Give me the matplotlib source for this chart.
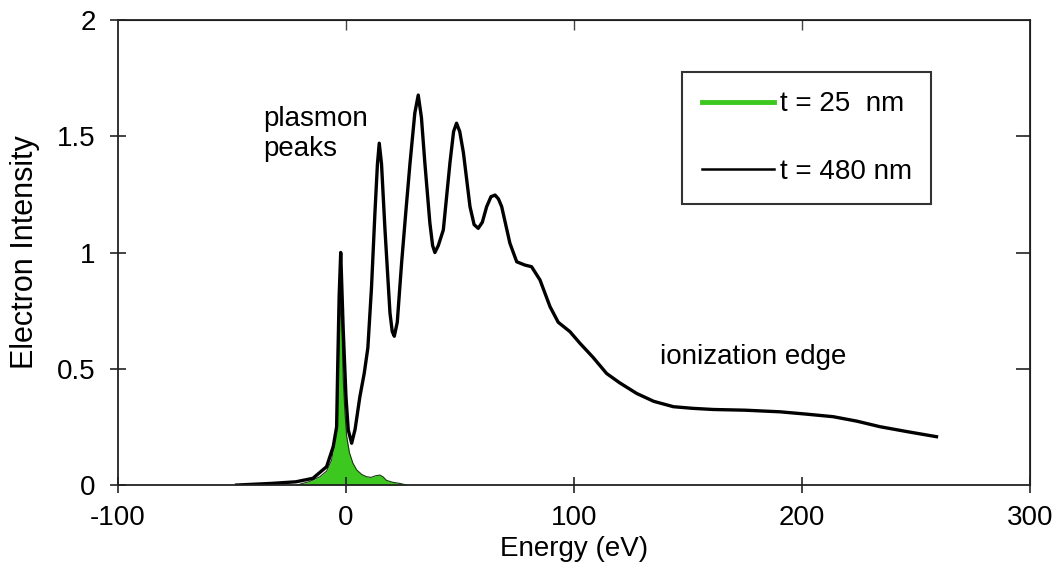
import matplotlib.pyplot as plt
from matplotlib.lines import Line2D

plt.rcParams['font.family'] = ['Liberation Sans', 'DejaVu Sans']

# t = 480 nm spectrum
energy_480 = [-48, -33, -22, -14.5, -8.5, -5.6, -4.1, -3.6, -3.0, -2.3, -1.2, 0, 1, 2.5,
              4, 6.1, 8, 9.6, 11.2, 12.7, 13.8, 14.6, 15.6, 17.1, 19.3, 20.3, 21.2, 22.5,
              24.4, 26.3, 28.1, 30.2, 31.7, 33.1, 34.6, 36.8, 38, 39, 40.5, 42.7, 45.6,
              47.2, 48.5, 49.9, 51.5, 54.4, 56.2, 58, 59.8, 61.7, 63.6, 65.4, 66.9, 68.3,
              71.9, 74.9, 78.5, 81.4, 85.1, 89.5, 93.1, 98.2, 102.6, 108.3, 114.3, 120,
              127.5, 135, 143.6, 152, 161.1, 175, 190.4, 202, 213.7, 224, 234.2, 246, 259]
intensity_480 = [0, 0.007, 0.014, 0.029, 0.079, 0.165, 0.25, 0.52, 0.81, 1.0, 0.667, 0.38,
                 0.237, 0.18, 0.24, 0.38, 0.48, 0.59, 0.85, 1.17, 1.38, 1.47, 1.38, 1.10,
                 0.74, 0.66, 0.64, 0.70, 0.955, 1.18, 1.385, 1.60, 1.677, 1.58, 1.385, 1.127,
                 1.03, 1.0, 1.03, 1.097, 1.385, 1.52, 1.556, 1.52, 1.43, 1.197, 1.12, 1.104,
                 1.13, 1.197, 1.24, 1.247, 1.23, 1.197, 1.04, 0.96, 0.946, 0.939, 0.882,
                 0.767, 0.70, 0.66, 0.61, 0.55, 0.48, 0.44, 0.394, 0.36, 0.337, 0.33, 0.325,
                 0.322, 0.315, 0.305, 0.294, 0.275, 0.251, 0.23, 0.208]

# t = 25 nm spectrum
energy_25 = [-21.6, -16, -11.4, -8.5, -6.3, -4.1, -3.4, -2.8, -2.2, -1.7, -1.2, -0.5, 0.3,
             1.5, 3, 4.7, 7, 9.0, 11, 13, 14.9, 16.3, 17.8, 20.5, 23.7, 26.6]
intensity_25 = [0, 0.015, 0.036, 0.06, 0.107, 0.25, 0.45, 0.68, 0.78, 0.66, 0.45, 0.32, 0.21,
                0.14, 0.095, 0.065, 0.045, 0.036, 0.033, 0.04, 0.043, 0.035, 0.02, 0.012,
                0.007, 0]

x_ticks = [-100, 0, 100, 200, 300]
y_ticks = [0, 0.5, 1, 1.5, 2]
y_labels = ["0", "0.5", "1", "1.5", "2"]

green = "#3cc81e"

fig = plt.figure(figsize=(10.58, 5.7), dpi=100)
ax = fig.add_axes([0.1115, 0.149, 0.862, 0.816])

ax.fill_between(energy_25, intensity_25, 0, color=green, lw=0)
ax.plot(energy_25, intensity_25, color="#1a3a10", lw=0.8)
ax.plot(energy_480, intensity_480, color="black", lw=2.4, solid_joinstyle="round")

ax.set_xlim(-100, 300)
ax.set_ylim(0, 2)
ax.set_xticks(x_ticks)
ax.set_xticklabels(["-100", "0", "100", "200", "300"])
ax.set_yticks(y_ticks)
ax.set_yticklabels(y_labels)
ax.tick_params(axis="both", labelsize=20, width=1.2, length=12, direction="inout",
               color="#222222")
ax.tick_params(axis="y", pad=10)
ax.tick_params(axis="x", pad=8)
for s in ax.spines.values():
    s.set_linewidth(1.3)
    s.set_color("#222222")

# inward ticks on the top and right frame
top = ax.secondary_xaxis("top")
top.set_xticks([0, 100, 200])
top.tick_params(direction="in", length=7, width=1.0, labeltop=False, color="#444444")
right = ax.secondary_yaxis("right")
right.set_yticks([0.5, 1, 1.5])
right.tick_params(direction="in", length=10, width=1.2, labelright=False, color="#222222")

ax.set_xlabel("Energy (eV)", fontsize=20, labelpad=4)
ax.set_ylabel("Electron Intensity", fontsize=22, labelpad=12)

ax.text(-36.4, 1.63, "plasmon\npeaks", fontsize=20, va="top", ha="left", linespacing=1.2)
ax.text(137.7, 0.55, "ionization edge", fontsize=20, va="center", ha="left")

handles = [Line2D([], [], color=green, lw=3.5), Line2D([], [], color="black", lw=1.8)]
leg = ax.legend(handles, ["t = 25  nm", "t = 480 nm"], loc="upper left",
                bbox_to_anchor=(0.645, 0.874), bbox_transform=fig.transFigure,
                fontsize=20, frameon=True, fancybox=False, edgecolor="black",
                handlelength=2.6, handletextpad=0.2, labelspacing=1.5, borderpad=0.7,
                borderaxespad=0)
leg.get_frame().set_linewidth(1.5)

plt.savefig("out.png", dpi=100)
